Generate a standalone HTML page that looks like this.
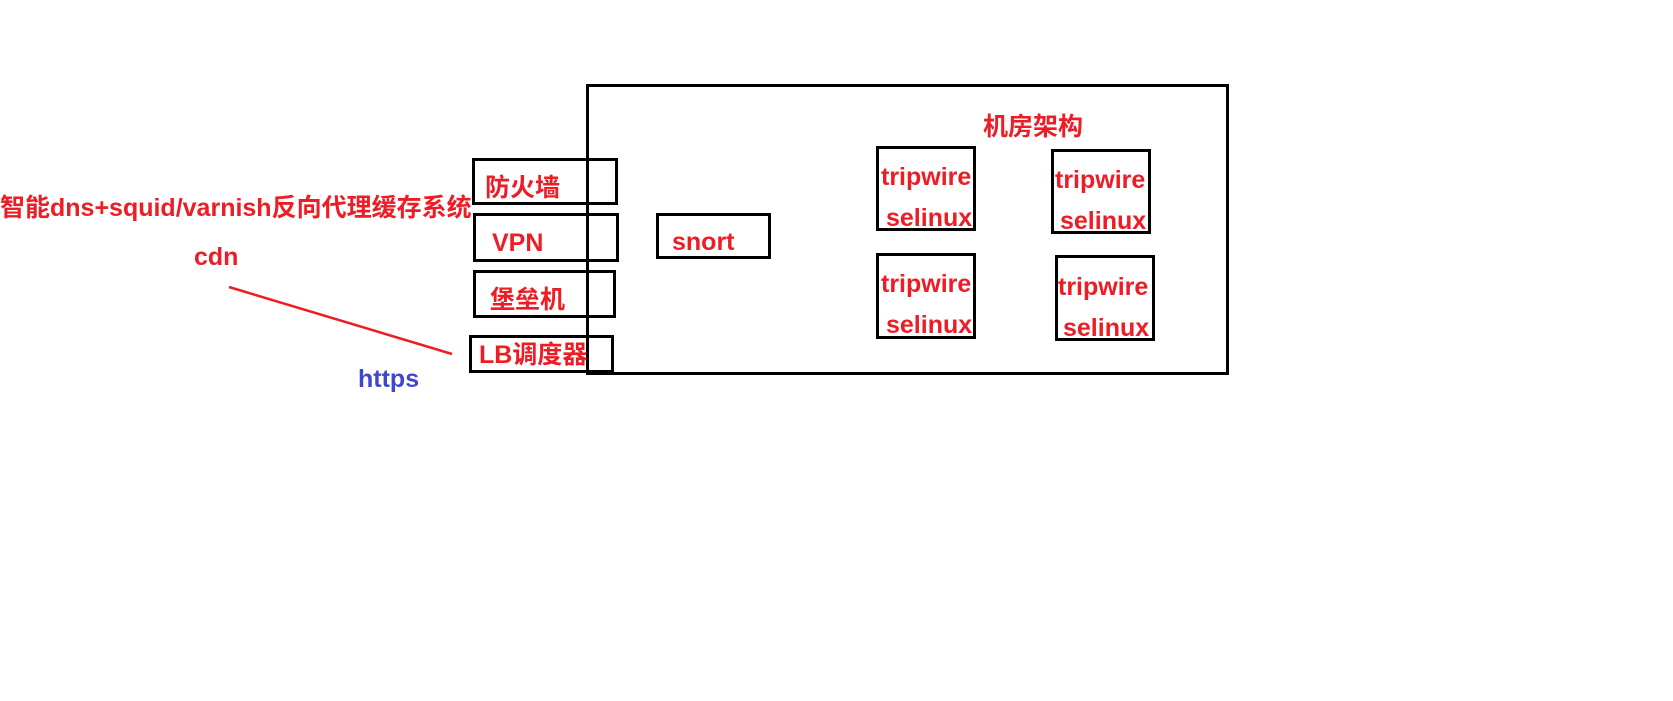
<!DOCTYPE html>
<html><head><meta charset="utf-8"><style>
body{margin:0;width:1673px;height:701px;background:#fff;position:relative;overflow:hidden;font-family:"Liberation Sans","Noto Sans CJK SC",sans-serif;}
.b{position:absolute;border:3px solid #000;box-sizing:border-box;}
.t{position:absolute;color:#ee1c24;font-weight:bold;font-size:25px;line-height:30px;white-space:nowrap;}
</style></head><body>
<div class="b" style="left:586px;top:84px;width:643px;height:291px"></div>
<div class="b" style="left:472px;top:158px;width:146px;height:47px"></div>
<div class="b" style="left:473px;top:213px;width:146px;height:49px"></div>
<div class="b" style="left:473px;top:270px;width:143px;height:48px"></div>
<div class="b" style="left:469px;top:335px;width:145px;height:38px"></div>
<div class="b" style="left:656px;top:213px;width:115px;height:46px"></div>
<div class="b" style="left:876px;top:146px;width:100px;height:85px"></div>
<div class="b" style="left:1051px;top:149px;width:100px;height:85px"></div>
<div class="b" style="left:876px;top:253px;width:100px;height:86px"></div>
<div class="b" style="left:1055px;top:255px;width:100px;height:86px"></div>
<svg style="position:absolute;left:0;top:0" width="1673" height="701"><line x1="229" y1="287" x2="452" y2="354" stroke="#ee1c24" stroke-width="2.5"/></svg>
<div class="t" style="left:0;top:193px;font-size:25px">智能dns+squid/varnish反向代理缓存系统</div>
<div class="t" style="left:194px;top:242px">cdn</div>
<div class="t" style="left:358px;top:364px;color:#3f48cc">https</div>
<div class="t" style="left:983px;top:112px">机房架构</div>
<div class="t" style="left:485px;top:173px">防火墙</div>
<div class="t" style="left:492px;top:228px">VPN</div>
<div class="t" style="left:490px;top:285px">堡垒机</div>
<div class="t" style="left:479px;top:340px">LB调度器</div>
<div class="t" style="left:672px;top:227px">snort</div>
<div class="t" style="left:881px;top:162px">tripwire</div>
<div class="t" style="left:886px;top:203px">selinux</div>
<div class="t" style="left:1055px;top:165px">tripwire</div>
<div class="t" style="left:1060px;top:206px">selinux</div>
<div class="t" style="left:881px;top:269px">tripwire</div>
<div class="t" style="left:886px;top:310px">selinux</div>
<div class="t" style="left:1058px;top:272px">tripwire</div>
<div class="t" style="left:1063px;top:313px">selinux</div>
</body></html>
